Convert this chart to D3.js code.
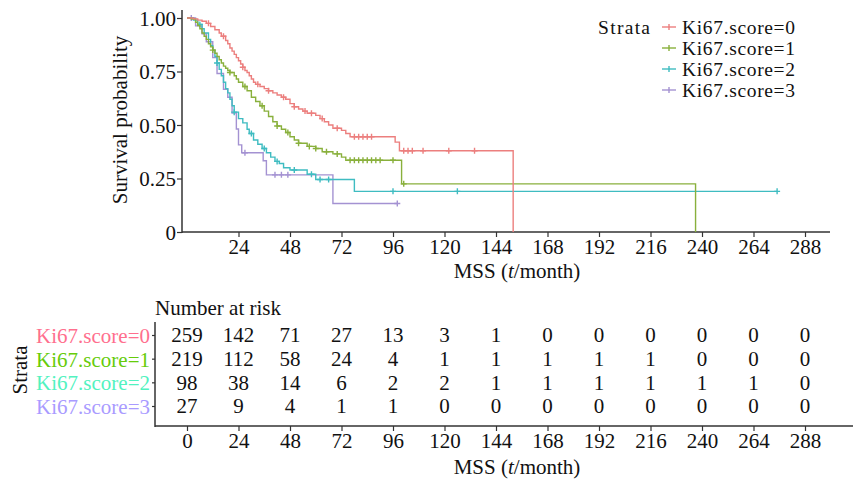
<!DOCTYPE html>
<html>
<head>
<meta charset="utf-8">
<script src="https://cdn.jsdelivr.net/npm/d3@7"></script>
<style>
body { margin: 0; background: #fff; }
svg text { font-family: "Liberation Serif", "Times New Roman", serif; fill: #111; }
</style>
</head>
<body>
<div id="chart"></div>
<script>
var width = 853;
var height = 479;
var fs = 21;

// strata names and colours
var strata = ["Ki67.score=0", "Ki67.score=1", "Ki67.score=2", "Ki67.score=3"];
var lineColors = ["#EC7F7E", "#89B03C", "#3FBCC1", "#A492D2"];
var labelColors = ["#FF6F8E", "#66CC0A", "#52F2C0", "#A99BFF"];

// KM step points [month, survival]
var km0 = [[0,1],[3,0.996],[5,0.99],[7,0.985],[9,0.975],[11,0.96],[13,0.945],[15,0.93],[16,0.915],[18,0.895],[19,0.88],[20,0.86],[21,0.845],[22,0.83],[23,0.815],[24,0.8],[25,0.785],[26,0.77],[27,0.755],[28,0.745],[29,0.73],[30,0.715],[31,0.7],[32,0.69],[34,0.68],[36,0.67],[38,0.66],[40,0.65],[42,0.64],[44,0.63],[46,0.62],[48,0.6],[50,0.585],[52,0.575],[54,0.565],[56,0.555],[60,0.545],[62,0.53],[64,0.515],[66,0.5],[68,0.485],[72,0.475],[74,0.46],[76,0.445],[97,0.42],[99,0.38],[152,0]];
var km1 = [[0,1],[2,0.995],[4,0.98],[5,0.965],[6,0.95],[7,0.93],[8,0.915],[9,0.9],[10,0.88],[11,0.865],[12,0.85],[13,0.835],[14,0.82],[15,0.805],[16,0.79],[17,0.775],[18,0.765],[19,0.755],[20,0.745],[22,0.73],[23,0.715],[24,0.7],[26,0.68],[28,0.66],[30,0.63],[32,0.61],[34,0.59],[36,0.565],[38,0.54],[40,0.515],[42,0.495],[44,0.48],[46,0.465],[48,0.445],[50,0.43],[52,0.415],[56,0.4],[60,0.39],[63,0.375],[68,0.365],[72,0.35],[74,0.335],[100,0.225],[237,0]];
var km2 = [[0,1],[3,0.99],[5,0.97],[7,0.95],[8,0.93],[10,0.9],[11,0.87],[12,0.85],[13,0.82],[14,0.79],[15,0.76],[16,0.73],[17,0.7],[18,0.67],[19,0.65],[20,0.62],[21,0.59],[22,0.56],[24,0.53],[26,0.51],[28,0.48],[29,0.46],[31,0.43],[33,0.41],[35,0.39],[37,0.37],[39,0.35],[41,0.33],[43,0.32],[45,0.3],[48,0.29],[56,0.27],[60,0.245],[78,0.19],[275,0.19]];
var km3 = [[0,1],[4,0.963],[7,0.926],[9,0.889],[12,0.815],[14,0.741],[17,0.667],[19,0.63],[21,0.556],[23,0.481],[24,0.407],[25.5,0.37],[35.5,0.333],[37,0.267],[68,0.133],[98,0.133]];

// censoring times
var cens0 = [10,17,26,33,38,45,50,55,58,63,70,78,80,82,84,86,101,103,105,110,122,134];
var cens1 = [12,20,27,35,42,47,52,57,60,65,70,76,78,80,82,84,86,88,90,96,101];
var cens2 = [6,14,22,30,36,42,50,58,62,66,96,126,275];
var cens3 = [2,27,41,44,47,98];

// number at risk table
var riskTimes = [0,24,48,72,96,120,144,168,192,216,240,264,288];
var risk0 = [259,142,71,27,13,3,1,0,0,0,0,0,0];
var risk1 = [219,112,58,24,4,1,1,1,1,1,0,0,0];
var risk2 = [98,38,14,6,2,2,1,1,1,1,1,1,0];
var risk3 = [27,9,4,1,1,0,0,0,0,0,0,0,0];

var yTicks = [0, 0.25, 0.5, 0.75, 1];
var topTicks = [24,48,72,96,120,144,168,192,216,240,264,288];

var kms = [km0, km1, km2, km3];
var cens = [cens0, cens1, cens2, cens3];
var risks = [risk0, risk1, risk2, risk3];

var svg = d3.select("#chart").append("svg")
    .attr("width", width).attr("height", height);

var x = d3.scaleLinear().domain([0, 288]).range([187, 805]);
var y = d3.scaleLinear().domain([0, 1]).range([232, 18]);

// ---- survival plot ----
var yAxis = svg.append("g")
    .attr("transform", "translate(182,0)")
    .call(d3.axisLeft(y).tickValues(yTicks).tickSize(5).tickSizeOuter(0)
        .tickFormat(function(d) { return d === 0 ? "0" : d3.format(".2f")(d); }));
yAxis.select(".domain").remove();
yAxis.selectAll("text").attr("font-size", fs).attr("x", -6).attr("dy", "0.35em");
svg.append("line").attr("x1", 182).attr("x2", 182).attr("y1", 10).attr("y2", 233)
    .attr("stroke", "#333").attr("stroke-width", 1.5);

var xAxis = svg.append("g")
    .attr("transform", "translate(0,232)")
    .call(d3.axisBottom(x).tickValues(topTicks).tickSize(5).tickSizeOuter(0));
xAxis.select(".domain").remove();
xAxis.selectAll("text").attr("font-size", fs).attr("y", 7);
svg.append("line").attr("x1", 182).attr("x2", 830).attr("y1", 232).attr("y2", 232)
    .attr("stroke", "#333").attr("stroke-width", 1.5);
svg.selectAll(".tick line").attr("stroke", "#333").attr("stroke-width", 1.2);

svg.append("text").attr("x", 517).attr("y", 278).attr("text-anchor", "middle")
    .attr("font-size", fs)
    .html('MSS (<tspan font-style="italic">t</tspan>/month)');

svg.append("text")
    .attr("transform", "translate(127,120) rotate(-90)")
    .attr("text-anchor", "middle").attr("font-size", fs)
    .text("Survival probability");

var line = d3.line()
    .x(function(d) { return x(d[0]); })
    .y(function(d) { return y(d[1]); })
    .curve(d3.curveStepAfter);

function survAt(km, t) {
    var s = km[0][1];
    for (var i = 0; i < km.length; i++) {
        if (km[i][0] <= t) s = km[i][1];
    }
    return s;
}

// draw back to front so red sits on top
for (var g = 3; g >= 0; g--) {
    svg.append("path").datum(kms[g])
        .attr("d", line)
        .attr("fill", "none")
        .attr("stroke", lineColors[g])
        .attr("stroke-width", 1.4);
    svg.append("g").selectAll("path")
        .data(cens[g])
        .enter().append("path")
        .attr("d", function(t) {
            var cx = x(t), cy = y(survAt(kms[g], t));
            return "M" + (cx - 3) + "," + cy + "H" + (cx + 3) + "M" + cx + "," + (cy - 3) + "V" + (cy + 3);
        })
        .attr("stroke", lineColors[g])
        .attr("stroke-width", 1.4);
}

// legend
var lfs = 19.5;
var legend = svg.append("g");
legend.append("text").attr("x", 598).attr("y", 34).attr("font-size", lfs)
    .attr("textLength", 52).text("Strata");
strata.forEach(function(s, i) {
    var ly = 27 + i * 21;
    legend.append("line").attr("x1", 662).attr("x2", 676).attr("y1", ly).attr("y2", ly)
        .attr("stroke", lineColors[i]).attr("stroke-width", 1.4);
    legend.append("line").attr("x1", 669).attr("x2", 669).attr("y1", ly - 3).attr("y2", ly + 3)
        .attr("stroke", lineColors[i]).attr("stroke-width", 1.4);
    legend.append("text").attr("x", 682).attr("y", ly + 7).attr("font-size", lfs)
        .attr("textLength", 113).text(s);
});

// ---- risk table ----
var rowY = d3.scalePoint().domain(strata).range([335, 406]);

svg.append("text").attr("x", 155).attr("y", 315).attr("font-size", fs).text("Number at risk");

var rAxisY = svg.append("g")
    .attr("transform", "translate(155,0)")
    .call(d3.axisLeft(rowY).tickSize(3).tickSizeOuter(0));
rAxisY.select(".domain").remove();
rAxisY.selectAll("text").attr("font-size", fs).attr("x", -5).attr("dy", "0.35em")
    .style("fill", function(d, i) { return labelColors[i]; });
svg.append("line").attr("x1", 155).attr("x2", 155).attr("y1", 322).attr("y2", 427)
    .attr("stroke", "#333").attr("stroke-width", 1.5);

var rAxisX = svg.append("g")
    .attr("transform", "translate(0,426)")
    .call(d3.axisBottom(x).tickValues(riskTimes).tickSize(5).tickSizeOuter(0));
rAxisX.select(".domain").remove();
rAxisX.selectAll("text").attr("font-size", fs).attr("y", 7);
svg.append("line").attr("x1", 155).attr("x2", 853).attr("y1", 426).attr("y2", 426)
    .attr("stroke", "#333").attr("stroke-width", 1.5);
svg.selectAll(".tick line").attr("stroke", "#333").attr("stroke-width", 1.2);

risks.forEach(function(r, i) {
    svg.append("g").selectAll("text")
        .data(r)
        .enter().append("text")
        .attr("x", function(d, j) { return x(riskTimes[j]); })
        .attr("y", rowY(strata[i]))
        .attr("dy", "0.35em")
        .attr("text-anchor", "middle")
        .attr("font-size", fs)
        .text(function(d) { return d; });
});

svg.append("text").attr("x", 517).attr("y", 474).attr("text-anchor", "middle")
    .attr("font-size", fs)
    .html('MSS (<tspan font-style="italic">t</tspan>/month)');

svg.append("text")
    .attr("transform", "translate(27,370) rotate(-90)")
    .attr("text-anchor", "middle").attr("font-size", fs)
    .text("Strata");
</script>
</body>
</html>
